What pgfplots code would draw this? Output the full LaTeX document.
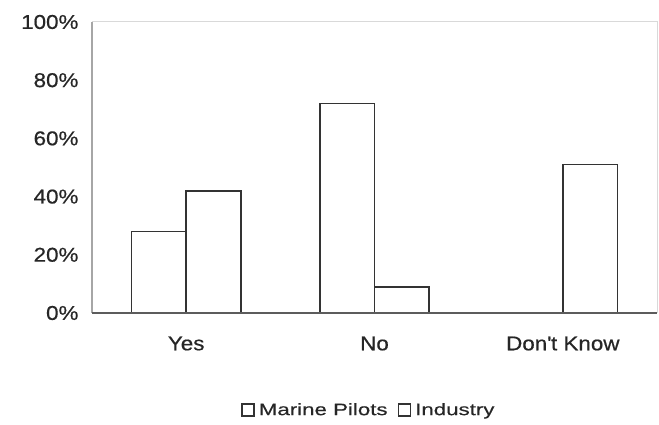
\documentclass[border=0pt]{standalone}
\usepackage{pgfplots}
\pgfplotsset{compat=1.18}
\usepackage{fontspec}
\setmainfont[FakeStretch=1.12, FakeBold=0.6]{Liberation Sans}
\newfontfamily\legfont[FakeStretch=1.35, FakeBold=0.4]{Liberation Sans}
\definecolor{txt}{HTML}{262626}
\definecolor{barline}{HTML}{333333}
\begin{document}
\begin{tikzpicture}[x=1pt,y=1pt]
\path[use as bounding box] (0,0) rectangle (659,425);
\begin{axis}[
  at={(92pt,112pt)}, anchor=south west,
  scale only axis, width=565pt, height=291pt,
  xmin=-0.5, xmax=2.5, ymin=0, ymax=100,
  xtick={0,1,2}, xticklabels={Yes,No,Don\textquotesingle t Know},
  ytick={0,20,40,60,80,100},
  yticklabel={\pgfmathprintnumber{\tick}\%},
  /pgf/number format/assume math mode=true,
  major tick length=0pt,
  axis line style={draw=gray!30, line width=1pt},
  ticklabel style={font=\fontsize{20}{24}\selectfont, text=txt},
  yticklabel style={xshift=-10pt},
  xticklabel style={yshift=-20pt},
  ybar, bar width=0.29,
  legend style={draw=none, fill=none, at={(0.49,-0.333)}, anchor=center,
    legend columns=2, font=\legfont\fontsize{16.5}{19}\selectfont, text=txt,
    /tikz/every even column/.append style={column sep=8pt}},
  legend image code/.code={\draw[#1, line width=1.6pt, fill=white] (0pt,-6pt) rectangle (12pt,6pt);},
  legend cell align=left,
  clip=false,
]
\addplot[draw=barline, fill=white, line width=1.8pt, bar shift=-0.145]
  coordinates {(0,28) (1,72)};
\addlegendentry{\hspace{2pt}Marine Pilots}
\addplot[draw=barline, fill=white, line width=1.8pt, bar shift=0.145]
  coordinates {(0,42) (1,9) (2,51)};
\addlegendentry{\hspace{2pt}Industry}
\draw[gray!70, line width=1.2pt] (rel axis cs:0,0) -- (rel axis cs:0,1);
\draw[barline!80, line width=1.3pt] (rel axis cs:0,0) -- (rel axis cs:1,0);
\end{axis}
\end{tikzpicture}
\end{document}
